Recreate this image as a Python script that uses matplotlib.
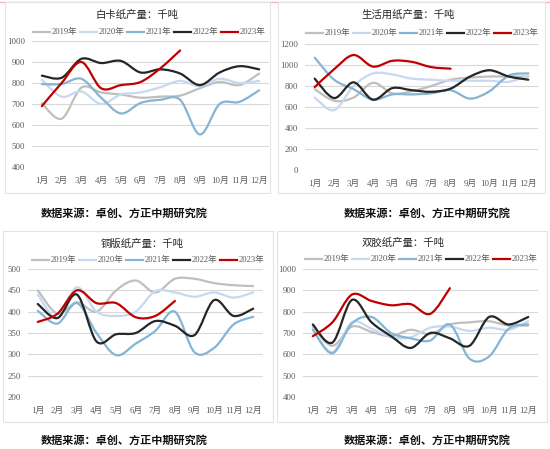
import numpy as np
import matplotlib
matplotlib.use('Agg')
import matplotlib.pyplot as plt
from matplotlib.path import Path
from matplotlib.patches import PathPatch, Rectangle
from matplotlib.lines import Line2D

months = [f'{i}月' for i in range(1, 13)]
years = ['2019年', '2020年', '2021年', '2022年', '2023年']
colors = ['#BFBFBF', '#C6D9F0', '#84B5D4', '#262626', '#C00000']

# 白卡纸产量
baika_2019 = [703, 630, 778, 755, 745, 730, 735, 740, 775, 805, 790, 845]
baika_2020 = [815, 735, 760, 700, 745, 755, 780, 810, 785, 820, 800, 810]
baika_2021 = [795, 795, 820, 730, 655, 705, 720, 720, 555, 700, 710, 765]
baika_2022 = [835, 825, 915, 895, 905, 850, 865, 845, 790, 850, 880, 865]
baika_2023 = [690, 800, 900, 775, 790, 805, 870, 955]

# 生活用纸产量
shenghuo_2019 = [770, 660, 690, 830, 730, 750, 800, 860, 880, 890, 890, 890]
shenghuo_2020 = [690, 570, 800, 920, 910, 870, 860, 850, 850, 850, 840, 900]
shenghuo_2021 = [1070, 860, 770, 670, 720, 720, 730, 760, 680, 750, 900, 920]
shenghuo_2022 = [870, 685, 835, 670, 780, 760, 745, 775, 890, 950, 890, 860]
shenghuo_2023 = [790, 960, 1095, 985, 1040, 1030, 980, 965]

# 铜版纸产量
tongban_2019 = [450, 395, 422, 400, 450, 473, 445, 477, 477, 467, 462, 460]
tongban_2020 = [440, 385, 457, 400, 390, 400, 448, 445, 435, 445, 433, 445]
tongban_2021 = [402, 372, 420, 350, 298, 325, 355, 400, 305, 315, 370, 388]
tongban_2022 = [418, 385, 440, 330, 347, 350, 378, 367, 345, 427, 390, 407]
tongban_2023 = [376, 395, 450, 420, 420, 387, 390, 425]

# 双胶纸产量
shuangjiao_2019 = [730, 640, 730, 705, 685, 715, 695, 740, 750, 755, 735, 735]
shuangjiao_2020 = [720, 610, 750, 720, 680, 680, 725, 730, 710, 725, 715, 755]
shuangjiao_2021 = [715, 605, 745, 775, 700, 675, 665, 740, 580, 590, 720, 740]
shuangjiao_2022 = [740, 655, 855, 750, 685, 630, 700, 675, 640, 775, 740, 775]
shuangjiao_2023 = [685, 750, 880, 850, 830, 835, 790, 910]

panels = [
    dict(title='白卡纸产量：千吨', series=[baika_2019, baika_2020, baika_2021, baika_2022, baika_2023],
         ylim=(400, 1000), step=100, ax=(32, 269, 41, 167), box=(5, 270, 2, 193),
         title_xy=(137, 15), leg=(33, 32), cap=(124, 213)),
    dict(title='生活用纸产量：千吨', series=[shenghuo_2019, shenghuo_2020, shenghuo_2021, shenghuo_2022, shenghuo_2023],
         ylim=(0, 1200), step=200, ax=(305, 538, 44, 170), box=(278, 545, 2, 193),
         title_xy=(408, 15), leg=(306, 33), cap=(427, 213)),
    dict(title='铜版纸产量：千吨', series=[tongban_2019, tongban_2020, tongban_2021, tongban_2022, tongban_2023],
         ylim=(200, 500), step=50, ax=(28, 263, 269, 397), box=(3, 273, 231, 422),
         title_xy=(142, 244), leg=(32, 260), cap=(124, 440)),
    dict(title='双胶纸产量：千吨', series=[shuangjiao_2019, shuangjiao_2020, shuangjiao_2021, shuangjiao_2022, shuangjiao_2023],
         ylim=(400, 1000), step=100, ax=(303, 538, 269, 397), box=(277, 547, 231, 422),
         title_xy=(403, 243), leg=(305, 259), cap=(427, 440)),
]

W, H = 550, 449
fig = plt.figure(figsize=(W / 100, H / 100), dpi=100)
fig.patch.set_facecolor('white')

serif = ['Liberation Serif', 'Noto Sans CJK SC']
cjk = ['Noto Sans CJK SC', 'DejaVu Sans']


def fx(px):
    return px / W


def fy(py):
    return 1 - py / H


def smooth_path(xs, ys):
    pts = np.column_stack([xs, ys]).astype(float)
    n = len(pts)
    verts = [pts[0]]
    codes = [Path.MOVETO]
    for i in range(n - 1):
        p0 = pts[i - 1] if i > 0 else pts[i]
        p1 = pts[i]
        p2 = pts[i + 1]
        p3 = pts[i + 2] if i + 2 < n else pts[i + 1]
        c1 = p1 + (p2 - p0) / 6.0
        c2 = p2 - (p3 - p1) / 6.0
        verts += [c1, c2, p2]
        codes += [Path.CURVE4] * 3
    return Path(verts, codes)


# top pink line
fig.add_artist(Line2D([0, 1], [fy(2), fy(2)], color='#F4B6B6', lw=1.0,
                      transform=fig.transFigure, zorder=-20))

for p in panels:
    bx0, bx1, by0, by1 = p['box']
    fig.add_artist(Rectangle((fx(bx0), fy(by1)), fx(bx1) - fx(bx0), fy(by0) - fy(by1),
                             transform=fig.transFigure, fill=True, facecolor='white',
                             edgecolor='#E3E3E3', lw=0.8, zorder=-10))
    x0, x1, y0, y1 = p['ax']
    ax = fig.add_axes([fx(x0), fy(y1), fx(x1) - fx(x0), fy(y0) - fy(y1)])
    ax.set_facecolor('none')
    ax.patch.set_alpha(0)
    for s in ax.spines.values():
        s.set_visible(False)
    lo, hi = p['ylim']
    ax.set_ylim(lo, hi)
    ax.set_xlim(-0.5, 11.5)
    ax.set_yticks(np.arange(lo, hi + 1, p['step']))
    ax.set_xticks(range(12))
    ax.set_xticklabels(months)
    ax.yaxis.grid(True, color='#D9D9D9', lw=0.8)
    ax.set_axisbelow(True)
    ax.tick_params(length=0, labelsize=6.3, colors='#595959')
    ax.tick_params(axis='y', pad=5)
    ax.tick_params(axis='x', pad=7)
    for lab in ax.get_xticklabels() + ax.get_yticklabels():
        lab.set_fontfamily(serif)
    for vals, c in zip(p['series'], colors):
        xs = np.arange(len(vals))
        path = smooth_path(xs, vals)
        ax.add_patch(PathPatch(path, fill=False, edgecolor=c, lw=1.6,
                               capstyle='round', joinstyle='round', clip_on=False))
    # title
    tx, ty = p['title_xy']
    fig.text(fx(tx), fy(ty), p['title'], ha='center', va='center', fontsize=7.5,
             family=cjk, color='#262626')
    # legend
    lx, ly = p['leg']
    for k, (yr, c) in enumerate(zip(years, colors)):
        sx = lx + k * 47
        fig.add_artist(Line2D([fx(sx), fx(sx + 17)], [fy(ly), fy(ly)], color=c, lw=1.6,
                              transform=fig.transFigure))
        fig.text(fx(sx + 18.5), fy(ly), yr, ha='left', va='center', fontsize=6.2,
                 family=serif, color='#595959')
    # caption
    cx, cy = p['cap']
    fig.text(fx(cx), fy(cy), '数据来源：卓创、方正中期研究院', ha='center', va='center',
             fontsize=8, family=cjk, fontweight='bold', color='#111111')

fig.savefig('out.png', dpi=100, facecolor='white')
